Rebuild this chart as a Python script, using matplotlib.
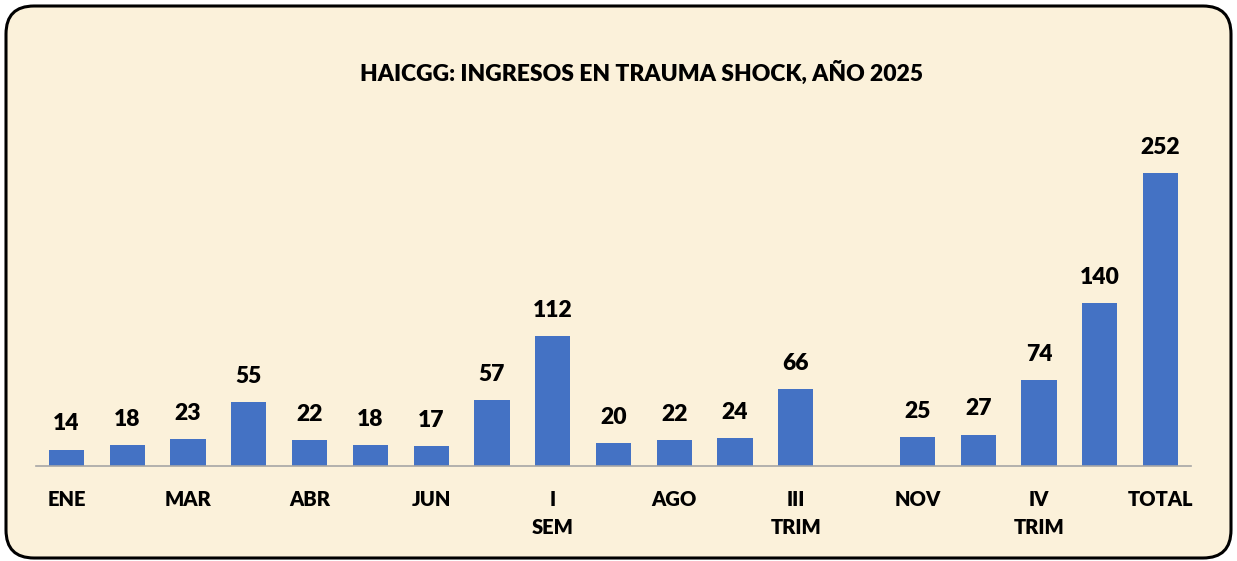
import numpy as np
import matplotlib
matplotlib.use("Agg")
import matplotlib.pyplot as plt
from matplotlib.patches import FancyBboxPatch
from matplotlib.transforms import IdentityTransform

categories = ["ENE", "FEB", "MAR", "I TRIM", "ABR", "MAY", "JUN", "II TRIM", "I\nSEM",
              "JUL", "AGO", "SEP", "III\nTRIM", "OCT", "NOV", "DIC", "IV\nTRIM", "II SEM", "TOTAL"]
values = [14, 18, 23, 55, 22, 18, 17, 57, 112, 20, 22, 24, 66, np.nan, 25, 27, 74, 140, 252]
title = "HAICGG: INGRESOS EN TRAUMA SHOCK, AÑO 2025"

plt.rcParams['font.family'] = ['Lato', 'DejaVu Sans']
WEIGHT = "heavy"

W, H = 1237, 561
fig = plt.figure(figsize=(W / 100, H / 100), dpi=100)
fig.patch.set_facecolor("white")

bg = "#FBF1DA"
box = FancyBboxPatch((6, 3), W - 12, H - 9,
                     boxstyle="round,pad=0,rounding_size=28",
                     transform=IdentityTransform(), facecolor=bg, edgecolor="black",
                     linewidth=2.2, zorder=-5)
fig.patches.append(box)

ax_left = 36 / W
ax_right = 1191 / W
ax_bottom = 1 - 466 / H
ymax = 280
ax_top_px = 466 - ymax * 1.161
ax = fig.add_axes([ax_left, ax_bottom, ax_right - ax_left, (466 - ax_top_px) / H])
ax.set_facecolor("none")
ax.set_zorder(2)

x = np.arange(len(categories))
bars = ax.bar(x, values, width=0.58, color="#4472C4", zorder=2)
for xi, v in zip(x, values):
    if not np.isnan(v):
        ax.annotate(f"{int(v)}", (xi, v), xytext=(0, 11), textcoords="offset points",
                    ha="center", va="bottom", fontsize=16.5, fontweight=WEIGHT, color="black")

ax.set_xlim(-0.5, len(categories) - 0.5)
ax.set_ylim(0, ymax)
shown = x[::2]
ax.set_xticks(shown)
ax.set_xticklabels([categories[i] for i in shown], fontsize=14.5, fontweight=WEIGHT,
                   linespacing=1.6, va="top")
ax.tick_params(axis="x", length=0, pad=17)
ax.set_yticks([])
for s in ["top", "right", "left"]:
    ax.spines[s].set_visible(False)
ax.spines["bottom"].set_color("#A6A6A6")
ax.spines["bottom"].set_linewidth(1.2)

fig.text(642 / W, 1 - 73 / H, title, ha="center", va="center", fontsize=16.5,
         fontweight=WEIGHT, color="black")

fig.savefig("out.png", dpi=100, facecolor="white")
